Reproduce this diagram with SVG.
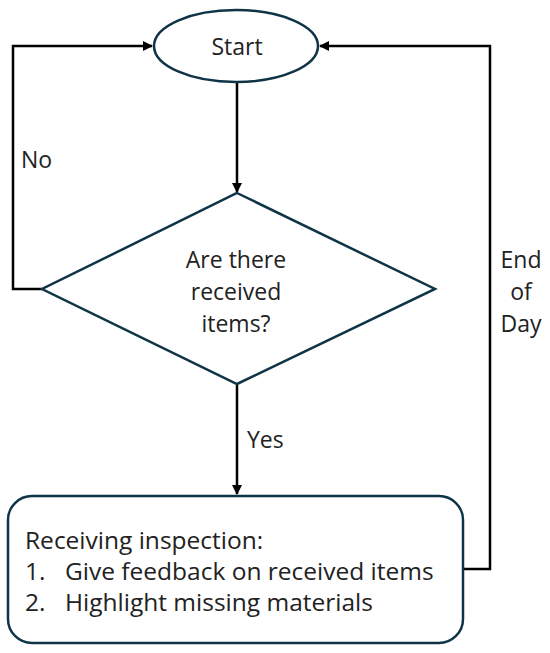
<svg xmlns="http://www.w3.org/2000/svg" width="550" height="653" viewBox="0 0 550 653">
<style>
.shape{fill:#fff;stroke:#0f3448;stroke-width:2.5}
.conn{fill:none;stroke:#000;stroke-width:2.5}
text{font-family:"Open Sans","Liberation Sans",Arial,sans-serif;font-size:23px;fill:#222}
.c{text-anchor:middle}
.b{font-size:24.5px}
</style>
<defs>
<marker id="ah" viewBox="0 0 10 10" refX="9" refY="5" markerWidth="4" markerHeight="4" orient="auto">
<path d="M0,0 L10,5 L0,10 z" fill="#000"/>
</marker>
</defs>
<rect width="550" height="653" fill="#fff"/>
<g id="connectors">
<path class="conn" d="M237,83 V192" marker-end="url(#ah)"/>
<path class="conn" d="M42,289 H13 V46 H152" marker-end="url(#ah)"/>
<path class="conn" d="M237,385 V494" marker-end="url(#ah)"/>
<path class="conn" d="M463,569 H490 V46 H320" marker-end="url(#ah)"/>
<text x="21" y="168">No</text>
<text x="247" y="448">Yes</text>
<text class="c" x="521" y="268">End</text>
<text class="c" x="521" y="300">of</text>
<text class="c" x="521" y="332">Day</text>
</g>
<g id="start">
<ellipse class="shape" cx="236" cy="46" rx="82" ry="36"/>
<text class="c" x="237" y="55">Start</text>
</g>
<g id="decision">
<path class="shape" d="M237,193 L435,289 L237,384 L42,289 Z"/>
<text class="c" x="236" y="268">Are there</text>
<text class="c" x="236" y="300">received</text>
<text class="c" x="236" y="332">items?</text>
</g>
<g id="inspection">
<rect class="shape" x="8" y="496" width="455" height="147" rx="24"/>
<text class="b" x="25" y="549">Receiving inspection:</text>
<text class="b" x="25" y="580">1.</text>
<text class="b" x="65" y="580">Give feedback on received items</text>
<text class="b" x="25" y="611">2.</text>
<text class="b" x="65" y="611">Highlight missing materials</text>
</g>
</svg>
